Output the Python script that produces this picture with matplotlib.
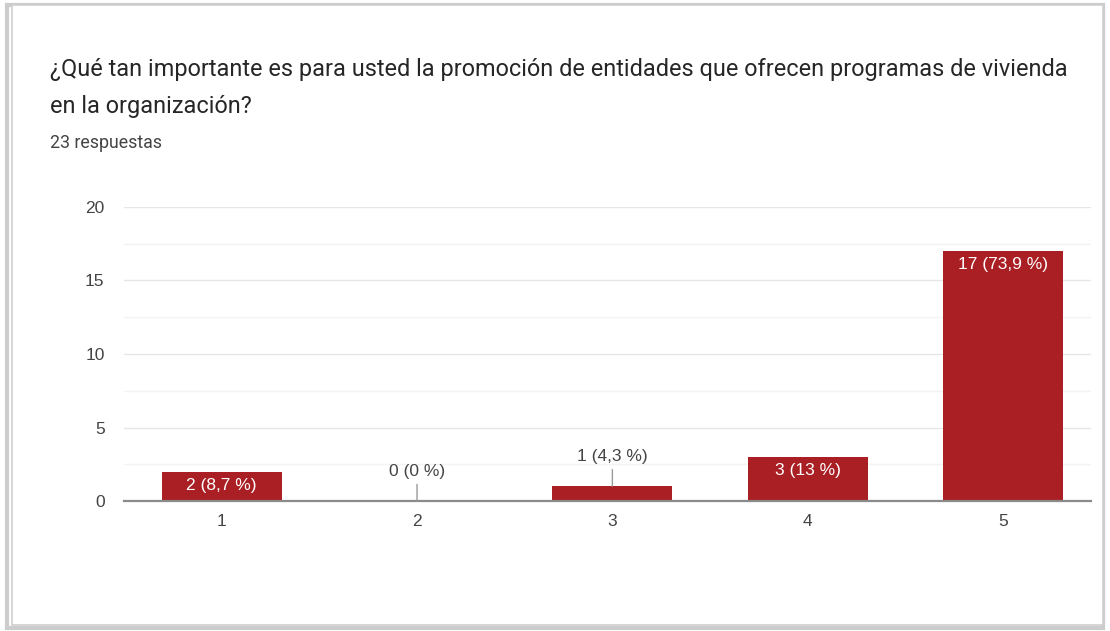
import matplotlib.pyplot as plt
from matplotlib.patches import Rectangle

# datos
categorias = ["1", "2", "3", "4", "5"]
respuestas = [2, 0, 1, 3, 17]
etiquetas = ["2 (8,7 %)", "0 (0 %)", "1 (4,3 %)", "3 (13 %)", "17 (73,9 %)"]
titulo = ("¿Qué tan importante es para usted la promoción de entidades que ofrecen programas de vivienda\n"
          "en la organización?")
subtitulo = "23 respuestas"

rojo = "#a91f24"
gris = "#444444"
fuente_graf = ["Liberation Sans", "DejaVu Sans"]

plt.rcParams["font.family"] = ["Roboto", "DejaVu Sans"]

fig = plt.figure(figsize=(11.1, 6.31), dpi=100)

# marco con sombra
fig.patches.append(Rectangle((0.006, 0.004), 0.988, 0.988, transform=fig.transFigure,
                             facecolor="none", edgecolor="#9a9a9a", linewidth=3, alpha=0.5,
                             zorder=-2))
fig.patches.append(Rectangle((0.011, 0.009), 0.983, 0.983, transform=fig.transFigure,
                             facecolor="white", edgecolor="#cfcfcf", linewidth=1.2,
                             zorder=-1))

ax = fig.add_axes([124 / 1110, 0.206, 967 / 1110, 0.466])
ax.set_facecolor("none")
x = list(range(len(categorias)))
ax.bar(x, respuestas, width=0.614, color=rojo, zorder=3)
ax.set_xlim(-0.5, 4.45)
ax.set_ylim(0, 20)
ax.set_yticks([0, 5, 10, 15, 20])
ax.set_yticks([2.5, 7.5, 12.5, 17.5], minor=True)
ax.set_xticks(x)
ax.set_xticklabels(categorias)
ax.grid(axis="y", which="major", color="#e6e6e6", linewidth=1, zorder=0)
ax.grid(axis="y", which="minor", color="#f3f3f3", linewidth=1, zorder=0)
ax.tick_params(axis="both", which="both", length=0, labelsize=12.5, colors=gris, pad=9.5)
ax.tick_params(axis="y", pad=14)
for lab in ax.get_xticklabels() + ax.get_yticklabels():
    lab.set_family(fuente_graf)
for s in ["top", "right", "left"]:
    ax.spines[s].set_visible(False)
ax.spines["bottom"].set_color("#8a8a8a")
ax.spines["bottom"].set_linewidth(1.6)
ax.spines["bottom"].set_zorder(4)

for xi, v, et in zip(x, respuestas, etiquetas):
    if v >= 2:
        ax.annotate(et, (xi, v), xytext=(0, -4.5), textcoords="offset points",
                    ha="center", va="top", color="white", fontsize=12.5, zorder=5,
                    family=fuente_graf)
    else:
        ax.annotate(et, (xi, v), xytext=(0, 16), textcoords="offset points",
                    ha="center", va="bottom", color=gris, fontsize=12.5, zorder=5,
                    family=fuente_graf,
                    arrowprops=dict(arrowstyle="-", color="#999999", lw=1,
                                    shrinkA=2, shrinkB=0))

fig.text(0.045, 0.908, titulo, fontsize=16.9, color="#262626", ha="left", va="top",
         linespacing=1.75)
fig.text(0.045, 0.773, subtitulo, fontsize=12.8, color="#444444", ha="left", va="center")

fig.savefig("out.png", dpi=100)
